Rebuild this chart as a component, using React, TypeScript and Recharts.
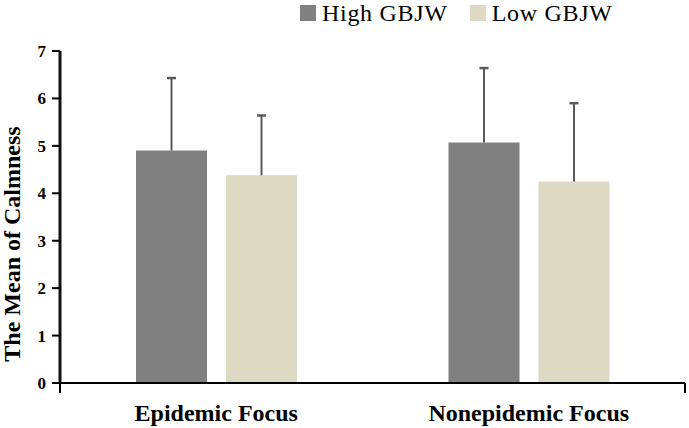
import React from 'react';
import { BarChart, Bar, XAxis, YAxis, Legend } from 'recharts';

const categories = ['Epidemic Focus', 'Nonepidemic Focus'];
const highMeans = [4.9, 5.07];
const highErrors = [1.53, 1.57];
const lowMeans = [4.38, 4.25];
const lowErrors = [1.26, 1.65];
const yTicks = [0, 1, 2, 3, 4, 5, 6, 7];
const boundaryTicks = [0, 1, 2];
const seriesNames = ['High GBJW', 'Low GBJW'];
const yTitle = 'The Mean of Calmness';

const data = categories.map((c, i) => ({
  name: c,
  high: highMeans[i],
  highErr: highErrors[i],
  low: lowMeans[i],
  lowErr: lowErrors[i],
}));

const FONT = '"Liberation Serif", "Times New Roman", serif';
const HIGH = '#808080';
const LOW = '#DDD9C3';
const ERR = '#5a5a5a';
const AXIS = '#000';

const ErrShape = (props: any) => {
  const { x, y, width, height } = props;
  const cx = x + width / 2;
  return (
    <g>
      <line x1={cx} x2={cx} y1={y + height} y2={y} stroke={ERR} strokeWidth={2} />
      <line x1={cx - 4.5} x2={cx + 4.5} y1={y} y2={y} stroke={ERR} strokeWidth={2.5} />
    </g>
  );
};

const EmptyTick = () => <g />;

const renderLegend = (props: any) => {
  const items = (props.payload || []).filter((p: any) => seriesNames.includes(p.value));
  return (
    <div
      style={{
        display: 'flex',
        alignItems: 'center',
        paddingLeft: 300,
        fontFamily: FONT,
        fontSize: 24,
        lineHeight: '24px',
        letterSpacing: 0.7,
        color: '#000',
        height: 26,
      }}
    >
      {items.map((p: any, i: number) => (
        <div key={p.value} style={{ display: 'flex', alignItems: 'center', marginRight: i === 0 ? 22 : 0 }}>
          <span style={{ display: 'inline-block', width: 16, height: 16, background: p.color, marginRight: 6 }} />
          <span>{p.value}</span>
        </div>
      ))}
    </div>
  );
};

const YTitle = (props: any) => {
  const vb = props.viewBox || { x: 0, y: 51, width: 60, height: 332 };
  const cx = vb.x + 20;
  const cy = vb.y + vb.height / 2 + 27;
  return (
    <text
      x={cx}
      y={cy}
      transform={`rotate(-90, ${cx}, ${cy})`}
      textAnchor="middle"
      fontFamily={FONT}
      fontWeight="bold"
      fontSize={24}
      fill="#000"
    >
      {yTitle}
    </text>
  );
};

export default function App() {
  return (
    <div style={{ position: 'absolute', left: 0, top: 0, width: 689, height: 428, background: '#fff' }}>
      <BarChart
        width={689}
        height={428}
        data={data}
        margin={{ top: 51, right: 4, left: 0, bottom: 0 }}
        barSize={71}
        barGap={19}
      >
        <XAxis
          xAxisId="axisA"
          type="number"
          domain={[0, 2]}
          ticks={boundaryTicks}
          interval={0}
          tick={<EmptyTick />}
          tickSize={10}
          height={1}
          stroke={AXIS}
          axisLine={{ stroke: AXIS, strokeWidth: 2 }}
          tickLine={{ stroke: AXIS, strokeWidth: 2 }}
          allowDataOverflow
        />
        <XAxis
          xAxisId="axisB"
          dataKey="name"
          axisLine={false}
          tickLine={false}
          tickSize={0}
          tickMargin={20}
          height={44}
          tick={{ fill: '#000', fontFamily: FONT, fontWeight: 'bold', fontSize: 24 }}
        />
        <YAxis
          yAxisId="left"
          orientation="left"
          width={60}
          domain={[0, 7]}
          ticks={yTicks}
          interval={0}
          tickSize={8}
          tickMargin={6}
          stroke={AXIS}
          axisLine={{ stroke: '#111', strokeWidth: 3 }}
          tickLine={{ stroke: AXIS, strokeWidth: 2 }}
          tick={{ fill: '#000', fontFamily: FONT, fontWeight: 'bold', fontSize: 17 }}
          label={<YTitle />}
        />
        <Legend
          verticalAlign="middle"
          align="center"
          layout="horizontal"
          wrapperStyle={{ top: 0, left: 0, width: 689 }}
          content={renderLegend}
        />
        <Bar xAxisId="axisB" yAxisId="left" dataKey="high" name={seriesNames[0]} stackId="h" fill={HIGH} isAnimationActive={false} />
        <Bar xAxisId="axisB" yAxisId="left" dataKey="highErr" name="High GBJW error" stackId="h" legendType="none" shape={ErrShape} isAnimationActive={false} />
        <Bar xAxisId="axisB" yAxisId="left" dataKey="low" name={seriesNames[1]} stackId="l" fill={LOW} isAnimationActive={false} />
        <Bar xAxisId="axisB" yAxisId="left" dataKey="lowErr" name="Low GBJW error" stackId="l" legendType="none" shape={ErrShape} isAnimationActive={false} />
      </BarChart>
    </div>
  );
}
